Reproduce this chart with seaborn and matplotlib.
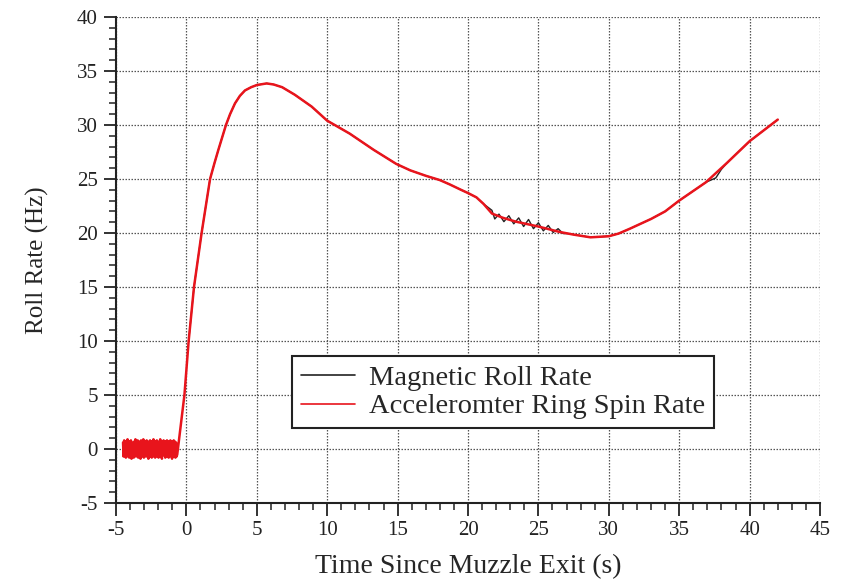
import numpy as np
import pandas as pd
import matplotlib
matplotlib.use("Agg")
import matplotlib.pyplot as plt
import seaborn as sns
from matplotlib.ticker import MultipleLocator

# ---- data ----
noise_vals = [0.6,-0.7,0.8,-0.5,0.7,-0.8,0.5,-0.6,0.9,-0.7,0.6,-0.8,0.7,-0.5,0.8,-0.9,
              0.6,-0.7,0.5,-0.8,0.7,-0.6,0.9,-0.7,0.6,-0.5,0.8,-0.8,0.7,-0.6,0.5,-0.9,
              0.8,-0.7,0.6,-0.6,0.9,-0.8,0.7,-0.5,0.6,-0.7,0.8,-0.6,0.7,-0.9,0.5,-0.7,
              0.8,-0.6,0.7,-0.8,0.6,-0.5,0.9,-0.7,0.6,-0.8,0.7,-0.6,0.8,-0.7,0.5,-0.8,
              0.7,-0.6,0.9,-0.7,0.6,-0.9,0.7,-0.6,0.8,-0.5,0.6,-0.8,0.7,-0.7,0.8,-0.6,
              0.7,-0.8,0.6,-0.7,0.8,-0.6,0.7,-0.9,0.6,-0.7,0.8,-0.6,0.7,-0.8,0.6,-0.7]
noise_t = np.linspace(-4.5, -0.7, len(noise_vals))

curve_x = [-0.65, -0.14, 0.16, 0.54, 1.08, 1.68, 2.0, 2.27, 2.55, 2.81, 3.1, 3.45, 3.8,
           4.16, 4.6, 5.0, 5.7, 6.2, 6.8, 7.7, 8.9, 10.0, 11.6, 13.3, 14.9, 15.9,
           17.0, 18.0, 18.7, 19.5, 20.0, 20.6, 21.1, 21.7, 22.5, 23.4, 25.0, 26.5,
           27.5, 28.7, 30.0, 30.7, 31.5, 33.0, 34.0, 35.0, 36.9, 38.4, 40.0, 41.0, 42.0]
curve_y = [-0.5, 5.0, 10.0, 15.0, 20.0, 25.0, 26.5, 27.7, 28.9, 30.0, 31.0, 32.0, 32.7,
           33.2, 33.5, 33.7, 33.85, 33.75, 33.5, 32.8, 31.7, 30.4, 29.2, 27.7, 26.4, 25.8,
           25.3, 24.9, 24.5, 24.0, 23.7, 23.3, 22.7, 21.8, 21.4, 21.05, 20.6, 20.1,
           19.85, 19.6, 19.7, 19.95, 20.4, 21.3, 22.0, 23.0, 24.7, 26.5, 28.5, 29.5, 30.5]

mag_x = [0.16, 0.54, 1.08, 1.68, 2.0, 2.27, 2.55, 2.81, 3.1, 3.45, 3.8, 4.16, 4.6, 5.0,
         5.7, 6.2, 6.8, 7.7, 8.9, 10.0, 11.6, 13.3, 14.9, 15.9, 17.0, 18.0, 18.7,
         19.5, 20.0, 20.6, 21.1,
         21.7, 21.9, 22.2, 22.55, 22.9, 23.25, 23.6, 23.95, 24.3, 24.65, 25.0, 25.35,
         25.7, 26.05, 26.4, 26.75, 27.1, 28.7, 30.0, 30.7, 31.5, 33.0, 34.0, 35.0,
         36.9, 37.6, 38.0, 38.4, 40.0, 41.0, 42.0]
mag_y = [10.0, 15.0, 20.0, 25.0, 26.5, 27.7, 28.9, 30.0, 31.0, 32.0, 32.7, 33.2, 33.5,
         33.7, 33.85, 33.75, 33.5, 32.8, 31.7, 30.4, 29.2, 27.7, 26.4, 25.8, 25.3, 24.9,
         24.5, 24.0, 23.7, 23.3, 22.7,
         22.1, 21.3, 21.75, 21.05, 21.6, 20.85, 21.4, 20.6, 21.25, 20.4, 20.95, 20.2,
         20.7, 20.05, 20.4, 19.95, 19.95, 19.6, 19.7, 19.95, 20.4, 21.3, 22.0, 23.0,
         24.7, 25.1, 25.9, 26.5, 28.5, 29.5, 30.5]

red_x = list(noise_t) + curve_x
red_y = noise_vals + curve_y

xlabel = "Time Since Muzzle Exit (s)"
ylabel = "Roll Rate (Hz)"
mag_label = "Magnetic Roll Rate"
acc_label = "Acceleromter Ring Spin Rate"

# ---- plot ----
sns.set_style("ticks")
plt.rcParams['font.family'] = ['Liberation Serif', 'DejaVu Serif']
plt.rcParams['axes.unicode_minus'] = False

fig = plt.figure(figsize=(8.46, 5.86), dpi=100)
ax = fig.add_axes([116/846, 1-503/586, (820-116)/846, (503-17)/586])

sns.lineplot(x=mag_x, y=mag_y, ax=ax, color="#222222", lw=1.0, sort=False,
             estimator=None, label=mag_label)
sns.lineplot(x=red_x, y=red_y, ax=ax, color="#e8141c", lw=1.8, sort=False,
             estimator=None, label=acc_label)

ax.set_xlim(-5, 45)
ax.set_ylim(-5, 40)
ax.xaxis.set_major_locator(MultipleLocator(5))
ax.yaxis.set_major_locator(MultipleLocator(5))
ax.xaxis.set_minor_locator(MultipleLocator(1))
ax.yaxis.set_minor_locator(MultipleLocator(1))
ax.grid(True, which="major", linestyle=(0, (1.2, 1.2)), color="#555555", lw=0.9)
ax.set_axisbelow(True)

for s in ["top", "right"]:
    ax.spines[s].set_visible(False)
for s in ["left", "bottom"]:
    ax.spines[s].set_linewidth(1.5)
    ax.spines[s].set_color("#222222")

ax.tick_params(which="major", direction="out", length=9, width=1.3, labelsize=15,
               color="#222222", labelcolor="#222222", pad=4)
ax.tick_params(which="minor", direction="out", length=5, width=1.1, color="#222222")

ax.set_xlabel(xlabel, fontsize=20, labelpad=10)
ax.set_ylabel(ylabel, fontsize=18, labelpad=20)

leg = ax.legend(loc="upper left", bbox_to_anchor=(0.25, 0.302), borderaxespad=0,
                fontsize=20.5, frameon=True, fancybox=False, framealpha=1,
                handlelength=1.9, handletextpad=0.5, borderpad=0.3, labelspacing=0.1)
leg.get_frame().set_edgecolor("#222222")
leg.get_frame().set_linewidth(1.5)
for h in leg.get_lines():
    h.set_linewidth(1.2)

fig.savefig("out.png", dpi=100)
